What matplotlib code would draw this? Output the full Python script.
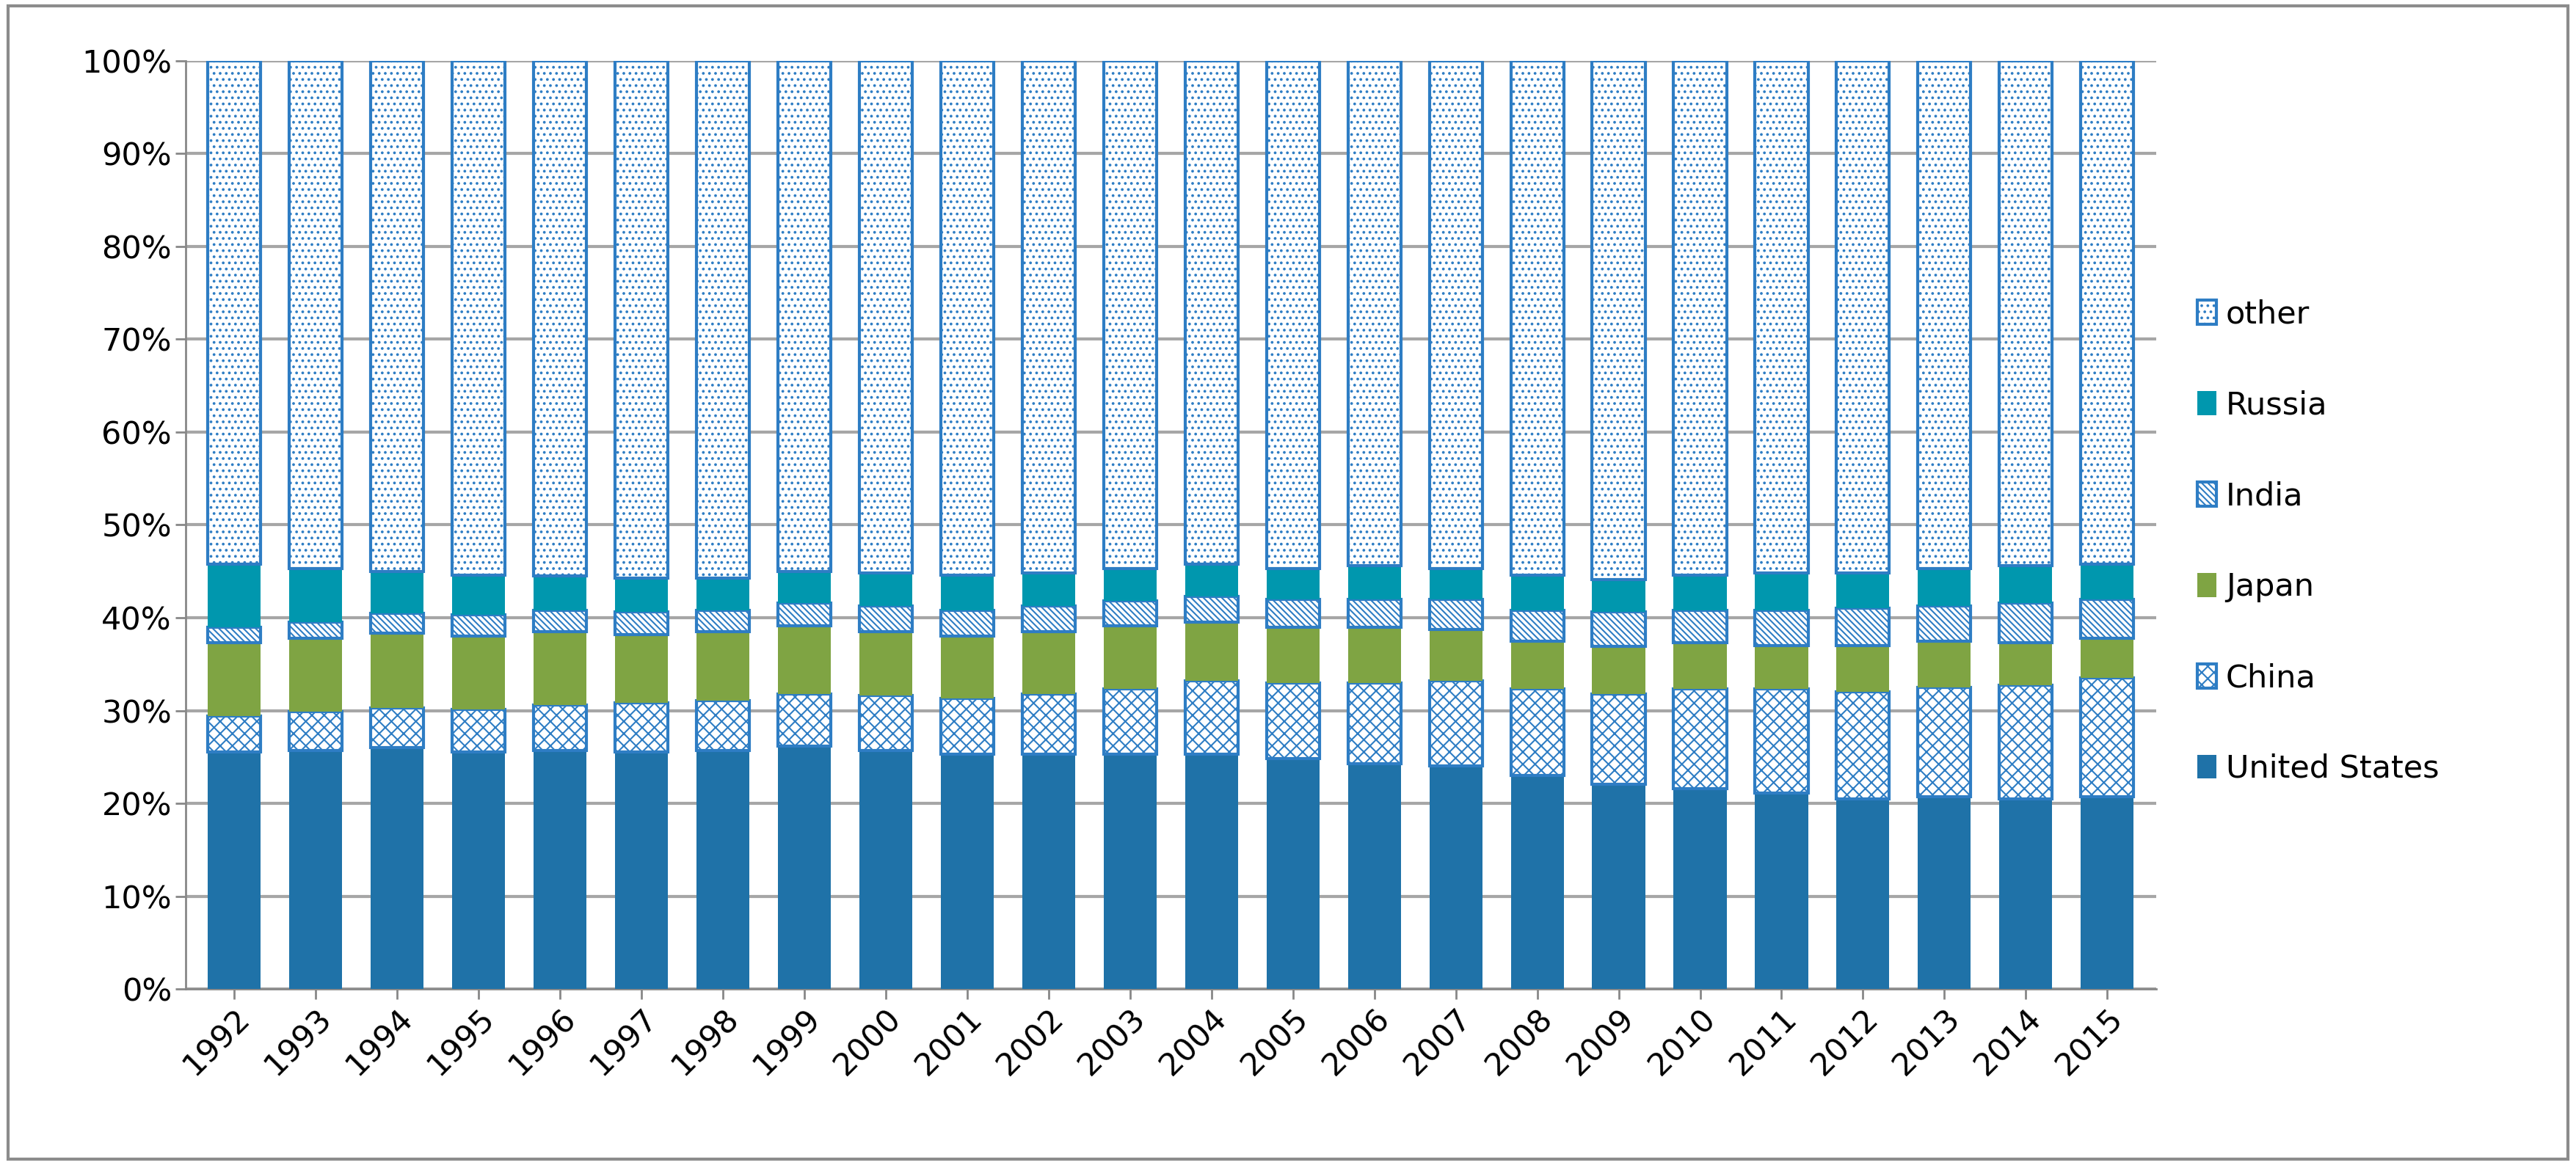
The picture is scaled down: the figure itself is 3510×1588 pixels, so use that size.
import matplotlib.pyplot as plt
import numpy as np
from matplotlib.ticker import PercentFormatter

years = [str(y) for y in range(1992, 2016)]

# cumulative tops (percent)
us_top = [25.5, 25.7, 26.0, 25.5, 25.7, 25.5, 25.7, 26.2, 25.7, 25.3, 25.3, 25.3,
          25.3, 24.8, 24.3, 24.0, 23.0, 22.1, 21.6, 21.1, 20.5, 20.7, 20.5, 20.7]
china_top = [29.4, 29.9, 30.3, 30.1, 30.6, 30.8, 31.1, 31.8, 31.6, 31.3, 31.8, 32.3,
             33.2, 33.0, 33.0, 33.2, 32.3, 31.8, 32.3, 32.3, 32.0, 32.5, 32.7, 33.5]
japan_top = [37.3, 37.8, 38.3, 38.0, 38.5, 38.2, 38.5, 39.1, 38.5, 38.0, 38.5, 39.1,
             39.5, 39.0, 39.0, 38.7, 37.5, 36.9, 37.3, 37.0, 37.0, 37.5, 37.3, 37.8]
india_top = [39.0, 39.5, 40.5, 40.3, 40.8, 40.6, 40.8, 41.6, 41.3, 40.8, 41.3, 41.8,
             42.3, 42.0, 42.0, 42.0, 40.8, 40.6, 40.8, 40.8, 41.0, 41.3, 41.6, 42.0]
russia_top = [45.8, 45.3, 45.0, 44.6, 44.5, 44.3, 44.3, 45.0, 44.8, 44.6, 44.8, 45.3,
              45.8, 45.3, 45.6, 45.3, 44.6, 44.1, 44.6, 44.8, 44.8, 45.3, 45.6, 45.8]

tops = [us_top, china_top, japan_top, india_top, russia_top, [100.0] * len(years)]
labels = ["United States", "China", "Japan", "India", "Russia", "other"]
fills = ["#1F72A8", "white", "#7FA443", "white", "#0097AE", "white"]
hatches = [None, "//\\\\", None, "\\\\\\\\", None, ".."]
edge = "#2E7DC4"

plt.rcParams["font.family"] = "DejaVu Sans"
plt.rcParams["hatch.color"] = edge
plt.rcParams["hatch.linewidth"] = 1.5

fig = plt.figure(figsize=(35.1, 15.88), dpi=100)
ax = fig.add_axes([0.072, 0.151, 0.765, 0.797])

x = np.arange(len(years))
bottom = np.zeros(len(years))
handles = []
for top, lab, fc, h in zip(tops, labels, fills, hatches):
    top = np.array(top)
    bars = ax.bar(x, top - bottom, 0.65, bottom=bottom, color=fc, hatch=h,
                  edgecolor=edge if h else fc, linewidth=3 if h else 0, label=lab, zorder=3)
    handles.append(bars)
    bottom = top

ax.set_ylim(0, 100)
ax.set_xlim(-0.6, len(years) - 0.4)
ax.set_yticks(range(0, 101, 10))
ax.yaxis.set_major_formatter(PercentFormatter(decimals=0))
ax.set_xticks(x)
ax.set_xticklabels(years, rotation=45, ha="right", rotation_mode="anchor")
ax.tick_params(labelsize=31, length=10, color="#888888", width=2)
ax.grid(axis="y", color="#A6A6A6", linewidth=3, zorder=0)
for s in ["top", "right"]:
    ax.spines[s].set_visible(False)
for s in ["left", "bottom"]:
    ax.spines[s].set_color("#888888")
    ax.spines[s].set_linewidth(2)

ax.legend(handles[::-1], labels[::-1], loc="center left", bbox_to_anchor=(0.842, 0.535),
          bbox_transform=fig.transFigure, frameon=False, fontsize=31,
          handlelength=0.6, handleheight=0.8, labelspacing=1.9, handletextpad=0.3)

fig.patches.append(plt.Rectangle((0.003, 0.005), 0.994, 0.99, transform=fig.transFigure,
                                 fill=False, edgecolor="#8C8C8C", linewidth=3))
fig.savefig("out.png", dpi=100)
